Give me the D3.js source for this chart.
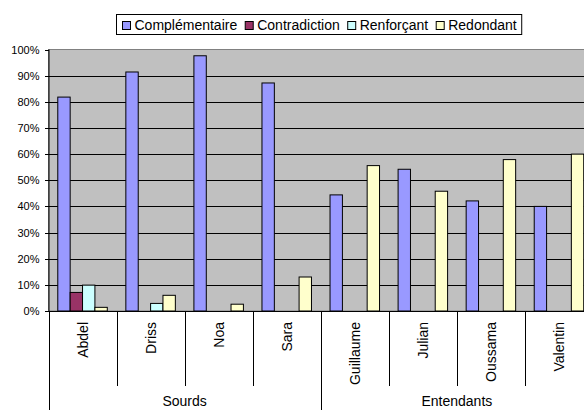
<!DOCTYPE html>
<html>
<head>
<meta charset="utf-8">
<script src="https://cdn.jsdelivr.net/npm/d3@7"></script>
<style>
  html, body { margin: 0; padding: 0; background: #fff; }
  svg { display: block; font-family: "Liberation Sans", Arial, Helvetica, sans-serif; }
</style>
</head>
<body>
<svg id="chart" width="584" height="410"></svg>
<script>
// Categories (participants) and their groups
const categories = ["Abdel", "Driss", "Noa", "Sara", "Guillaume", "Julian", "Oussama", "Valentin"];
const groups = [
  { name: "Sourds", members: ["Abdel", "Driss", "Noa", "Sara"] },
  { name: "Entendants", members: ["Guillaume", "Julian", "Oussama", "Valentin"] }
];

// Series names and colours
const seriesNames = ["Complémentaire", "Contradiction", "Renforçant", "Redondant"];
const seriesColors = ["#9999FF", "#993366", "#CCFFFF", "#FFFFCC"];

// Percentages per participant, one array per series
const complementaire = [81.8, 91.4, 97.6, 87.2, 44.4, 54.2, 42.1, 40.0];
const contradiction  = [7.1, 0, 0, 0, 0, 0, 0, 0];
const renforcant     = [9.9, 2.9, 0, 0, 0, 0, 0, 0];
const redondant      = [1.4, 6.0, 2.6, 13.0, 55.6, 45.8, 57.9, 60.0];
const seriesValues = [complementaire, contradiction, renforcant, redondant];

// Y axis ticks
const yTicks = [0, 10, 20, 30, 40, 50, 60, 70, 80, 90, 100];

const svg = d3.select("#chart");

const plot = { left: 48.5, right: 593, top: 49.5, bottom: 311 };

const x0 = d3.scaleBand().domain(categories).range([plot.left, plot.right]).padding(0);
const bw = x0.bandwidth();
const halfGap = bw * 0.75 / 5.5; // gap width 150% between groups of bars
const x1 = d3.scaleBand().domain(seriesNames).range([halfGap, bw - halfGap]).padding(0);
const y = d3.scaleLinear().domain([0, 100]).range([plot.bottom, plot.top]);

// Plot area background
svg.append("rect")
  .attr("x", plot.left).attr("y", plot.top)
  .attr("width", plot.right - plot.left).attr("height", plot.bottom - plot.top)
  .attr("fill", "#C0C0C0").attr("stroke", "#808080").attr("stroke-width", 1);

// Horizontal gridlines
svg.append("g").selectAll("line")
  .data(yTicks.filter(t => t > 0 && t < 100))
  .join("line")
  .attr("x1", plot.left).attr("x2", plot.right)
  .attr("y1", d => Math.round(y(d)) + 0.5).attr("y2", d => Math.round(y(d)) + 0.5)
  .attr("stroke", "#000").attr("stroke-width", 1);

// Bars
const barData = [];
categories.forEach((c, i) => {
  seriesNames.forEach((s, j) => {
    barData.push({ cat: c, series: s, value: seriesValues[j][i], color: seriesColors[j] });
  });
});
svg.append("g").selectAll("rect")
  .data(barData.filter(d => d.value > 0))
  .join("rect")
  .attr("x", d => x0(d.cat) + x1(d.series))
  .attr("width", x1.bandwidth())
  .attr("y", d => y(d.value))
  .attr("height", d => y(0) - y(d.value))
  .attr("fill", d => d.color)
  .attr("stroke", "#000").attr("stroke-width", 1);

// Y axis
const yAxis = d3.axisLeft(y)
  .tickValues(yTicks)
  .tickSize(4)
  .tickPadding(5)
  .tickFormat(d => d + "%");
const gy = svg.append("g").attr("transform", `translate(${plot.left},0)`).call(yAxis);
gy.select(".domain").attr("stroke", "#000").attr("d", `M0.5,${plot.top}V${plot.bottom}`);
gy.selectAll(".tick line").attr("stroke", "#000").attr("x1", 0.5).attr("x2", -3.5);
gy.selectAll(".tick").attr("transform", d => `translate(0,${Math.round(y(d)) + 0.5})`);
gy.selectAll(".tick text").attr("font-size", 11).attr("fill", "#000")
  .attr("font-family", "'Liberation Sans', Arial, sans-serif");

// Category axis line
svg.append("line")
  .attr("x1", plot.left).attr("x2", plot.right)
  .attr("y1", plot.bottom + 0.5).attr("y2", plot.bottom + 0.5)
  .attr("stroke", "#000");

// Category boundary ticks: short ones between participants, long ones at group edges
const groupEdges = new Set([0]);
let acc = 0;
groups.forEach(g => { acc += g.members.length; groupEdges.add(acc); });
const boundaries = d3.range(categories.length + 1);
svg.append("g").selectAll("line")
  .data(boundaries)
  .join("line")
  .attr("x1", i => Math.round(plot.left + i * bw) + 0.5)
  .attr("x2", i => Math.round(plot.left + i * bw) + 0.5)
  .attr("y1", plot.bottom)
  .attr("y2", i => groupEdges.has(i) ? 410 : 386)
  .attr("stroke", "#000");

// Participant labels, rotated
svg.append("g").selectAll("text")
  .data(categories)
  .join("text")
  .attr("transform", d => `translate(${x0(d) + bw / 2 + 5},322) rotate(-90)`)
  .attr("text-anchor", "end")
  .attr("font-size", 14)
  .attr("fill", "#000")
  .text(d => d);

// Group labels
svg.append("g").selectAll("text")
  .data(groups)
  .join("text")
  .attr("x", g => {
    const a = x0(g.members[0]);
    const b = x0(g.members[g.members.length - 1]) + bw;
    return (a + b) / 2;
  })
  .attr("y", 406)
  .attr("text-anchor", "middle")
  .attr("font-size", 14)
  .attr("fill", "#000")
  .text(g => g.name);

// Legend
const legend = svg.append("g");
const legendBox = legend.append("rect")
  .attr("fill", "#fff").attr("stroke", "#000").attr("stroke-width", 1);
let lx = 122;
seriesNames.forEach((s, j) => {
  legend.append("rect")
    .attr("x", lx + 0.5).attr("y", 21.5)
    .attr("width", 8).attr("height", 8)
    .attr("fill", seriesColors[j]).attr("stroke", "#000");
  const t = legend.append("text")
    .attr("x", lx + 12.5).attr("y", 29.5)
    .attr("font-size", 14).attr("fill", "#000")
    .text(s);
  lx += 12.5 + t.node().getComputedTextLength() + 7.5;
});
legendBox
  .attr("x", 116.5).attr("y", 14.5)
  .attr("width", lx - 7.5 + 5 - 116.5).attr("height", 20);
</script>
</body>
</html>
